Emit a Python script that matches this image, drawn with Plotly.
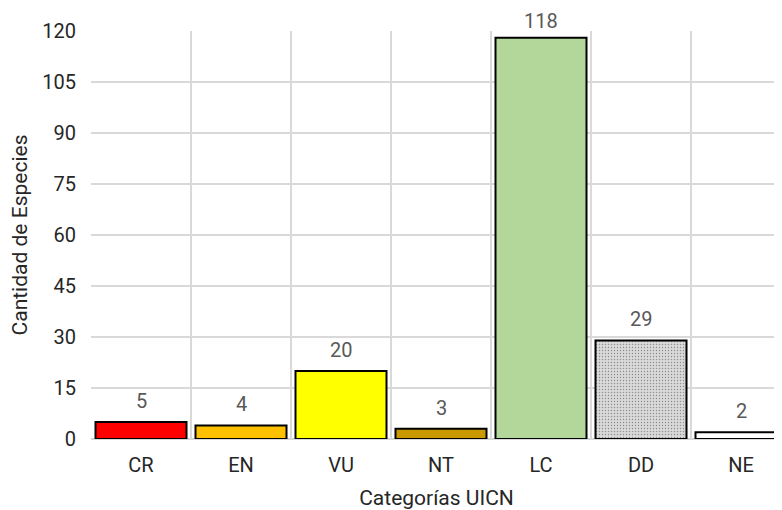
import plotly.graph_objects as go

categories = ["CR", "EN", "VU", "NT", "LC", "DD", "NE"]
values = [5, 4, 20, 3, 118, 29, 2]
colors = ["#ff0000", "#ffc000", "#ffff00", "#c89a00", "#b3d69b", "#dadada", "#ffffff"]
patterns = ["", "", "", "", "", ".", ""]
y_ticks = [0, 15, 30, 45, 60, 75, 90, 105, 120]

FONT = "Roboto"

fig = go.Figure(go.Bar(
    x=categories, y=values,
    marker=dict(color=colors, line=dict(color="black", width=2),
                pattern=dict(shape=patterns, fgcolor="#c8c8c8", bgcolor="#dfdfdf",
                             size=3, solidity=0.2)),
    cliponaxis=False,
))

vmax = max(values)
for c, v in zip(categories, values):
    fig.add_annotation(x=c, y=v, text=str(v), showarrow=False,
                       yanchor="bottom", yshift=(3 if v == vmax else 7),
                       font=dict(family=FONT, size=20, color="#595959"))

fig.update_layout(
    width=774, height=502,
    margin=dict(l=83, r=0, t=23, b=71, autoexpand=False),
    paper_bgcolor="white", plot_bgcolor="white",
    bargap=0.09,
    showlegend=False,
    font=dict(family=FONT, size=20, color="#000000"),
    xaxis=dict(
        type="category", range=[-0.5, 6.41], tickson="boundaries",
        showgrid=True, gridcolor="#d9d9d9", gridwidth=1.5,
        ticks="", showline=False, zeroline=False,
        ticklabelstandoff=12,
        title=dict(text="Categorías UICN", font=dict(size=21, color="#262626"), standoff=15),
        tickfont=dict(size=20, color="#262626"),
        automargin=False,
    ),
    yaxis=dict(
        range=[0, 120], tickvals=y_ticks,
        showgrid=True, gridcolor="#d9d9d9", gridwidth=1.5,
        zeroline=True, zerolinecolor="#d9d9d9", zerolinewidth=1.5,
        showline=False, ticks="",
        ticklabelstandoff=14,
        title=dict(text="Cantidad de Especies", font=dict(size=21, color="#262626"), standoff=10),
        tickfont=dict(size=20, color="#262626"),
        automargin=False,
    ),
)

fig.write_html("out.html")
